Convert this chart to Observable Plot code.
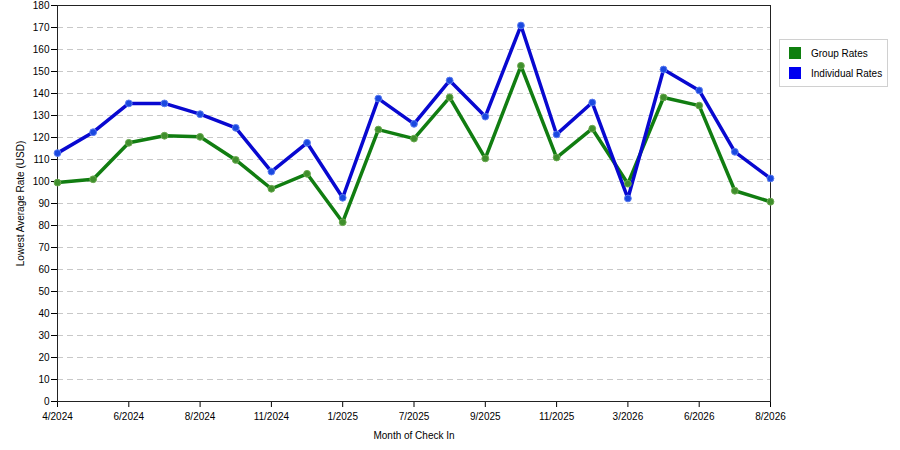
<!DOCTYPE html>
<html>
<head>
<meta charset="utf-8">
<script src="https://cdn.jsdelivr.net/npm/d3@7"></script>
<script src="https://cdn.jsdelivr.net/npm/@observablehq/plot@0.6"></script>
<style>
  body { margin: 0; background: #fff; font-family: "Liberation Sans", Arial, sans-serif; }
  #wrap { position: relative; width: 900px; height: 450px; }
  #legend { position: absolute; left: 779px; top: 39px; width: 107px; height: 46px;
            border: 1px solid #d0d0d0; background: #fff; font-size: 10px; color: #000; }
  .item { position: absolute; left: 9px; display: flex; align-items: center; }
  .sw { width: 12px; height: 12px; margin-right: 10px; }
</style>
</head>
<body>
<div id="wrap"></div>
<script>
const months = ["4/2024","5/2024","6/2024","7/2024","8/2024","10/2024","11/2024","12/2024","1/2025","6/2025","7/2025","8/2025","9/2025","10/2025","11/2025","12/2025","3/2026","5/2026","6/2026","7/2026","8/2026"];
const tickLabels = ["4/2024","6/2024","8/2024","11/2024","1/2025","7/2025","9/2025","11/2025","3/2026","6/2026","8/2026"];
const groupRates = [99.5,101,117.6,120.8,120.3,109.8,96.7,103.5,81.5,123.6,119.5,138.2,110.5,152.6,110.9,124,99,138.2,134.5,95.8,90.8];
const individualRates = [112.9,122.4,135.5,135.5,130.6,124.4,104.5,117.6,92.6,137.7,126.2,145.9,129.5,170.9,121.4,135.9,92.3,150.9,141.4,113.5,101.4];
const seriesNames = ["Group Rates","Individual Rates"];
const seriesColors = ["#117d11","#0808d0"];
const dotColors = ["#3f8f2c","#1a48e0"];
const yTicks = d3.range(0, 181, 10);

const data = [];
months.forEach((m, i) => {
  data.push({month: m, value: groupRates[i], series: seriesNames[0]});
  data.push({month: m, value: individualRates[i], series: seriesNames[1]});
});

const chart = Plot.plot({
  width: 900,
  height: 450,
  marginLeft: 57,
  marginRight: 130,
  marginTop: 5,
  marginBottom: 49,
  style: {fontFamily: "'Liberation Sans', Arial, sans-serif", fontSize: "10px", color: "#000", background: "#fff"},
  x: {type: "point", domain: months, padding: 0, round: false},
  y: {domain: [0, 180]},
  color: {domain: seriesNames, range: seriesColors},
  marks: [
    Plot.ruleY(yTicks.filter(d => d > 0), {stroke: "#c8c8c8", strokeDasharray: "6,4", strokeOpacity: 1}),
    Plot.axisY({ticks: yTicks, tickSize: 6, tickPadding: 2, label: "Lowest Average Rate (USD)", labelAnchor: "center", labelOffset: 41, labelArrow: "none"}),
    Plot.axisX({ticks: tickLabels, tickSize: 6, tickPadding: 5, label: "Month of Check In", labelAnchor: "center", labelOffset: 37, labelArrow: "none"}),
    Plot.frame({stroke: "#222", strokeOpacity: 1}),
    Plot.line(data, {x: "month", y: "value", z: "series", stroke: "series", strokeWidth: 3.5, strokeLinejoin: "round"}),
    Plot.dot(data, {x: "month", y: "value", fill: d => d.series === seriesNames[0] ? dotColors[0] : dotColors[1], stroke: d => d.series === seriesNames[0] ? "#6aa84f" : "#5a7cf0", strokeWidth: 1, r: 3.4})
  ]
});
document.getElementById("wrap").appendChild(chart);

const legend = document.createElement("div");
legend.id = "legend";
seriesNames.forEach((name, i) => {
  const item = document.createElement("div");
  item.className = "item";
  item.style.top = (7 + i * 20) + "px";
  const sw = document.createElement("div");
  sw.className = "sw";
  sw.style.background = i === 0 ? "#0f7f0f" : "#0000f0";
  item.appendChild(sw);
  const t = document.createElement("span");
  t.textContent = name;
  item.appendChild(t);
  legend.appendChild(item);
});
document.getElementById("wrap").appendChild(legend);
</script>
</body>
</html>
